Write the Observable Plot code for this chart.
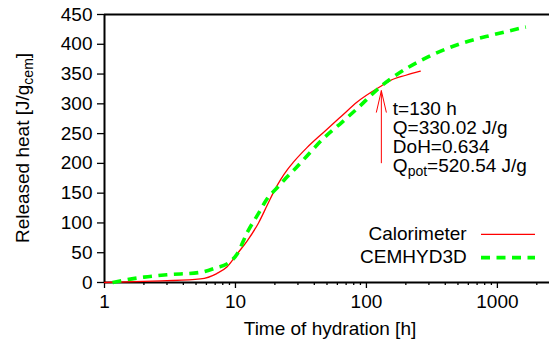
<!DOCTYPE html>
<html><head><meta charset="utf-8">
<script src="https://cdn.jsdelivr.net/npm/d3@7"></script>
<script src="https://cdn.jsdelivr.net/npm/@observablehq/plot@0.6"></script>
<style>
html,body{margin:0;padding:0;background:#fff;overflow:hidden}
svg text{font-family:"Liberation Sans",Arial,sans-serif}
</style></head><body><div id="chart"></div>
<script>
// Calorimeter (measured)
const calTime = [1, 2, 3, 5.4, 7.2, 8.6, 10.3, 12.3, 15, 17.5, 20, 22, 25, 27.7, 35, 47, 65, 85, 130, 152, 200, 258];
const calHeat = [0, 2, 3, 6, 15, 26, 48, 70, 100, 130, 156, 172, 190, 202, 226, 252, 280, 303, 330, 339, 348, 355];
// CEMHYD3D (simulated)
const cemTime = [1.15, 1.5, 2, 3, 5.4, 7.2, 8.6, 10.3, 12.3, 15, 17.5, 20.8, 23.3, 27.7, 35, 47, 65, 85, 130, 160, 290, 522, 930, 1650];
const cemHeat = [0, 5, 9, 13, 17, 25, 31, 48, 84, 116, 141, 159, 171, 188, 212, 242, 269, 292, 330, 345, 378, 401, 416, 429];
const seriesNames = ["Calorimeter", "CEMHYD3D"];
const xMajorTicks = [1, 10, 100, 1000];
const xMinorTicks = [2, 3, 4, 5, 6, 7, 8, 9, 20, 30, 40, 50, 60, 70, 80, 90, 200, 300, 400, 500, 600, 700, 800, 900, 2000];
const yTicks = [0, 50, 100, 150, 200, 250, 300, 350, 400, 450];
const annotTime = 130, annotFrom = 201, annotTo = 322;
const annotLines = [["t=130 h"], ["Q=330.02 J/g"], ["DoH=0.634"], ["Q", "pot", "=520.54 J/g"]];

const cal = calTime.map((t, i) => ({t, q: calHeat[i]}));
const cem = cemTime.map((t, i) => ({t, q: cemHeat[i]}));
const RED = "#ff0000", GREEN = "#00ff00";
const FS = 19;

const chart = Plot.plot({
  width: 549, height: 344,
  marginLeft: 104, marginRight: 0, marginTop: 14, marginBottom: 62,
  style: {fontFamily: "Liberation Sans, Arial, sans-serif", fontSize: FS + "px", color: "black", background: "white"},
  x: {type: "log", domain: [1, 2500]},
  y: {domain: [0, 450]},
  marks: [
    Plot.axisX({ticks: xMinorTicks, tickSize: 3, tickFormat: () => "", label: null, strokeWidth: 1.3}),
    Plot.axisX({ticks: xMajorTicks, tickSize: 6, tickPadding: 6, tickFormat: d => String(d), label: null, strokeWidth: 1.3, fontSize: FS}),
    Plot.axisY({ticks: yTicks, tickSize: 7, tickPadding: 5, label: null, strokeWidth: 1.3, fontSize: FS}),
    Plot.ruleY([0], {strokeWidth: 2}),
    Plot.ruleY([450], {strokeWidth: 2}),
    Plot.ruleX([1], {strokeWidth: 2}),
    Plot.line(cal, {x: "t", y: "q", stroke: RED, strokeWidth: 1.3, curve: "monotone-x"}),
    Plot.line(cem, {x: "t", y: "q", stroke: GREEN, strokeWidth: 3.6, strokeDasharray: "9,6.5", strokeLinecap: "butt", curve: "monotone-x"}),
    Plot.arrow([{t: annotTime, a: annotFrom, b: annotTo}], {x: "t", y1: "a", y2: "b", stroke: RED, strokeWidth: 1, headLength: 33, headAngle: 26})
  ]
});
document.getElementById("chart").appendChild(chart);

const svg = d3.select(chart);
const xs = chart.scale("x"), ys = chart.scale("y");
const font = "Liberation Sans, Arial, sans-serif";

// Y axis title with subscript
const yl = svg.append("text").attr("transform", "translate(29,148) rotate(-90)")
  .attr("text-anchor", "middle").attr("font-size", FS).attr("font-family", font).attr("fill", "black");
yl.append("tspan").text("Released heat [J/g");
yl.append("tspan").attr("font-size", 14).attr("dy", 4).text("cem");
yl.append("tspan").attr("dy", -4).text("]");

// X axis title
svg.append("text").attr("x", 330).attr("y", 335).attr("text-anchor", "middle")
  .attr("font-size", FS).attr("font-family", font).attr("fill", "black").text("Time of hydration [h]");

// Annotation text
const ax = xs.apply(annotTime) + 12, ay = ys.apply(330) + 29.5;
annotLines.forEach((parts, i) => {
  const t = svg.append("text").attr("x", ax).attr("y", ay + i * 19).attr("text-anchor", "start")
    .attr("font-size", FS).attr("font-family", font).attr("fill", "black");
  if (parts.length === 1) t.text(parts[0]);
  else {
    t.append("tspan").text(parts[0]);
    t.append("tspan").attr("font-size", 14).attr("dy", 4).text(parts[1]);
    t.append("tspan").attr("dy", -4).text(parts[2]);
  }
});

// Legend
const right = 549, bottom = 282;
const legendStyles = [
  {stroke: RED, width: 1.3, dash: null},
  {stroke: GREEN, width: 3.6, dash: "9,6.5"}
];
seriesNames.forEach((name, i) => {
  const by = bottom - 42 + i * 23.3;
  svg.append("text").attr("x", right - 82.3).attr("y", by).attr("text-anchor", "end")
    .attr("font-size", FS).attr("font-family", font).attr("fill", "black").text(name);
  svg.append("line").attr("x1", right - 68).attr("x2", right - 14)
    .attr("y1", by - 5.7).attr("y2", by - 5.7)
    .attr("stroke", legendStyles[i].stroke).attr("stroke-width", legendStyles[i].width)
    .attr("stroke-dasharray", legendStyles[i].dash);
});
</script></body></html>
